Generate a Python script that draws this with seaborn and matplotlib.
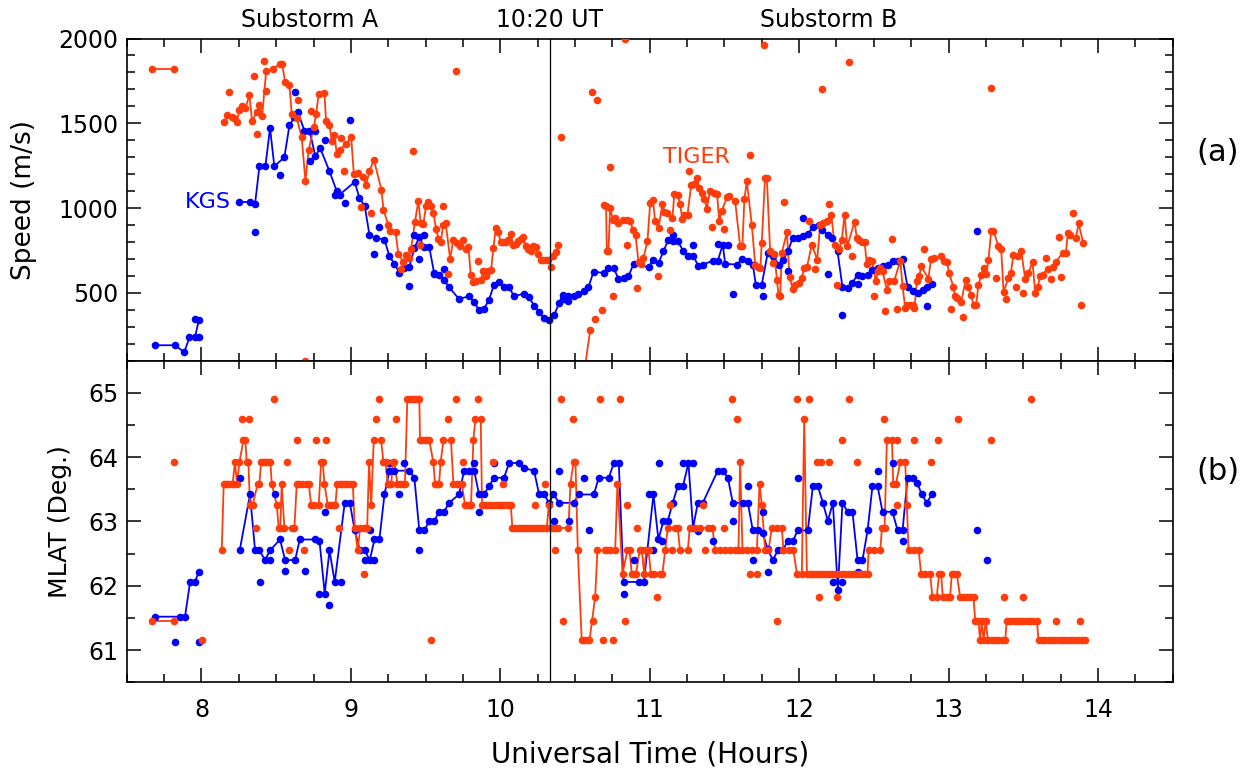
import numpy as np
import pandas as pd
import matplotlib
matplotlib.use("Agg")
import matplotlib.pyplot as plt
from matplotlib.ticker import MultipleLocator
import seaborn as sns

sns.set_style("ticks")
plt.rcParams["font.family"] = ["DejaVu Sans"]
plt.rcParams["text.color"] = "black"
plt.rcParams["axes.labelcolor"] = "black"

BLUE = "#0000ff"
RED = "#ff3c0a"

# ---------------- Speed (m/s), KGS ----------------
kgs_speed_t = [7.69, 7.823, 7.885, 7.92, 7.957, 7.982, None,
               8.254, 8.325, 8.359, 8.388, 8.428, 8.459, 8.488, 8.555, 8.589, 8.622, 8.645, 8.689, 8.723,
               8.763, 8.794, 8.857, 8.906, 8.924, 9.026, 9.057, 9.093, 9.124, 9.165, 9.225, 9.258, 9.292,
               9.325, 9.356, 9.391, 9.425, 9.458, 9.492, 9.525, 9.557, 9.59, 9.624, 9.657, 9.724,
               9.791, 9.825, 9.858, 9.891, 9.925, 9.958, 9.992, 10.025, 10.059, 10.092, 10.159, 10.193,
               10.226, 10.26, 10.293, 10.327, 10.36, 10.394, 10.423, 10.456, 10.49, 10.557, 10.59, 10.624,
               10.691, 10.724, 10.758, 10.791, 10.858, 10.892, 10.992, 11.025, 11.059, 11.092,
               11.125, 11.159, 11.188, 11.226, 11.255, 11.293, 11.326, 11.36, 11.422, 11.456, 11.489, 11.505,
               11.583, 11.621, 11.657, 11.69, 11.71, 11.75, 11.79, 11.828, 11.862, 11.895, 11.924, 11.958,
               11.991, 12.025, 12.058, 12.092, 12.13, 12.152, 12.19, 12.223, 12.257, 12.29, 12.324, 12.357,
               12.391, 12.424, 12.458, 12.491, 12.525, 12.558, 12.592, 12.625, 12.659, 12.692, 12.726, 12.759,
               12.793, 12.826, 12.855, 12.888]
kgs_speed_v = [191, 191, 150, 238, 240, 337, None,
               1036, 1036, 1026, 1246, 1246, 1472, 1246, 1300, 1488, 1535, 1567, 1457, 1457,
               1305, 1355, 1217, 1099, 1079, 1154, 1060, 1011, 844, 824, 814, 716, 671,
               618, 647, 651, 765, 828, 769, 769, 618, 608, 578, 533, 464,
               480, 447, 396, 405, 460, 549, 563, 533, 533, 480, 496, 474,
               425, 386, 352, 339, 368, 441, 464, 484, 480, 510, 533, 624,
               618, 647, 647, 584, 598, 671, 651, 696, 677, 745,
               814, 804, 804, 745, 716, 716, 657, 667, 690, 690, 785, 671,
               667, 702, 690, 667, 549, 549, 736, 716, 667, 696, 745, 824,
               824, 834, 848, 887, 899, 873, 844, 824, 745, 533, 529, 559,
               608, 598, 604, 637, 647, 657, 667, 690, 690, 702, 533, 510,
               500, 514, 533, 555]
kgs_speed_dot_t = [7.957, 7.986, 8.359, 8.524, 8.627, 8.725, 8.761, 8.825, 8.892, 8.959, 8.993, 9.158,
                   9.191, 9.391, 9.425, 9.458, 9.492, 9.557, 9.624, 10.423, 10.456, 10.523, 10.825, 11.159,
                   11.293, 11.456, 11.523, 11.556, 11.757, 11.924, 12.025, 12.19, 12.29, 12.391, 12.854, 13.189]
kgs_speed_dot_v = [343, 242, 857, 1197, 1685, 1280, 1453, 1402, 1079, 1030, 1518, 730,
                   887, 539, 840, 702, 844, 614, 643, 490, 451, 494, 588, 844,
                   781, 789, 785, 494, 480, 627, 942, 614, 372, 553, 423, 863]

# ---------------- Speed (m/s), TIGER ----------------
tiger_speed_t = [7.669, 7.819, None,
                 8.153, 8.169, 8.203, 8.22, 8.238, 8.254, 8.272, 8.294, 8.321, 8.339, 8.37, 8.388,
                 8.406, 8.433, 8.477, 8.526, 8.54, 8.56, 8.589, 8.604, 8.638, 8.671, 8.696, 8.718,
                 8.752, 8.767, 8.785, 8.823, 8.834, 8.857, 8.872, 8.89, 8.906, 8.924, 8.968, 9.002,
                 9.02, 9.051, 9.084, 9.102, 9.124, 9.154, 9.205, 9.218, 9.25, 9.265, 9.299, 9.318,
                 9.351, 9.369, 9.387, 9.403, 9.429, 9.452, 9.467, 9.485, 9.503, 9.519, 9.534, 9.552,
                 9.57, 9.586, 9.601, 9.619, 9.635, 9.664, 9.686, 9.708, 9.731, 9.771, 9.787, 9.802,
                 9.82, 9.838, 9.869, 9.887, 9.903, 9.92, 9.938, 9.954, 9.97, 9.985, 10.003, 10.02,
                 10.037, 10.054, 10.07, 10.088, 10.103, 10.121, 10.139, 10.155, 10.17, 10.188, 10.204, 10.222,
                 10.237, 10.255, 10.271, 10.289, 10.304, 10.322, 10.356, 10.371, 10.389, None,
                 10.563, 10.601, None,
                 10.691, 10.708, 10.713, 10.724, 10.735, 10.753, 10.769, 10.787, 10.82, 10.851, 10.869, 10.887,
                 10.905, 10.925, 10.941, 10.958, 10.985, 11.003, 11.021, 11.037, 11.059, 11.085, 11.098, 11.114,
                 11.152, 11.165, 11.188, 11.203, 11.219, 11.232, 11.253, 11.277, 11.297, 11.315, 11.333, 11.348,
                 11.366, 11.382, 11.404, 11.433, 11.451, 11.465, 11.482, 11.516, 11.534, 11.572, 11.605, 11.62,
                 11.634, 11.65, 11.683, 11.706, 11.723, 11.741, 11.772, 11.784, 11.806, 11.822, 11.835, 11.851,
                 11.862, 11.873, 11.884, 11.918, 11.936, 11.956, 11.974, 11.996, 12.018, 12.034, 12.052, 12.085,
                 12.121, 12.141, 12.163, 12.186, 12.215, 12.237, 12.268, 12.286, 12.304, 12.322, 12.371, 12.386,
                 12.402, 12.42, 12.438, 12.453, 12.469, 12.487, 12.514, 12.527, 12.543, 12.558, 12.587, 12.603,
                 12.636, 12.677, 12.692, 12.71, 12.725, 12.744, 12.759, 12.772, 12.788, 12.804, 12.817, 12.865,
                 12.883, 12.905, 12.95, 12.972, 12.988, 13.004, 13.033, 13.044, 13.055, 13.084, 13.115, 13.133,
                 13.151, 13.167, 13.184, 13.2, 13.218, 13.234, 13.249, 13.267, 13.285, 13.3, 13.334, 13.352,
                 13.368, 13.401, 13.417, 13.434, 13.468, 13.486, 13.513, 13.535, 13.562, 13.58, 13.597, 13.613,
                 13.629, 13.664, 13.702, 13.718, 13.765, 13.785, 13.798, 13.816, 13.852, 13.87, 13.901]
tiger_speed_v = [1822, 1822, None,
                 1506, 1547, 1535, 1531, 1508, 1580, 1600, 1590, 1665, 1512, 1567, 1610,
                 1541, 1806, 1822, 1850, 1852, 1742, 1728, 1555, 1531, 1417, 1158, 1345,
                 1476, 1555, 1675, 1679, 1512, 1488, 1394, 1433, 1319, 1345, 1378, 1419,
                 1201, 1207, 1182, 1138, 1217, 1284, 1109, 991, 903, 863, 857, 730,
                 683, 726, 706, 761, 918, 1044, 912, 906, 1011, 1034, 1011, 971,
                 879, 820, 800, 903, 910, 702, 814, 795, 775, 761, 769, 608,
                 563, 569, 578, 627, 598, 627, 633, 765, 883, 859, 800, 800,
                 800, 814, 848, 781, 791, 808, 818, 830, 775, 761, 745, 775,
                 769, 730, 692, 692, 696, 696, 716, 740, 785, None,
                 38, 278, None,
                 1021, 1011, 745, 745, 1001, 932, 942, 912, 932, 932, 926, 873,
                 840, 683, 671, 706, 804, 1030, 1050, 922, 883, 1024, 975, 971,
                 942, 1083, 1079, 1024, 938, 962, 962, 1134, 1142, 1178, 1119, 1089,
                 1056, 997, 1103, 1089, 1083, 926, 981, 1064, 1070, 1040, 775, 775,
                 1056, 1158, 903, 667, 651, 647, 1178, 1178, 745, 677, 730, 578,
                 490, 480, 736, 857, 592, 525, 549, 559, 588, 647, 651, 785,
                 696, 903, 912, 922, 962, 785, 761, 814, 962, 775, 918, 824,
                 814, 800, 800, 671, 696, 690, 569, 627, 647, 627, 519, 569,
                 569, 690, 539, 411, 431, 431, 431, 411, 569, 598, 657, 584,
                 702, 706, 716, 690, 683, 616, 533, 480, 470, 445, 578, 533,
                 486, 431, 427, 545, 604, 647, 612, 692, 863, 867, 775, 761,
                 506, 588, 618, 722, 716, 745, 584, 618, 683, 498, 537, 598,
                 608, 643, 651, 683, 736, 736, 853, 840, 824, 910, 795]
tiger_speed_dot_t = [8.187, 8.354, 8.37, 8.417, 8.433, 8.649, 8.736, 8.937, 8.953, 9.069, 9.138, 8.69,
                     9.336, 9.418, 9.463, 9.619, 9.653, 9.704, 9.753, 9.854, 10.338, 10.405, 10.617, 10.635,
                     10.65, 10.684, 10.735, 10.753, 10.851, 10.918, 11.054, 10.835, 11.136, 11.266, 11.42, 11.5,
                     11.668, 11.75, 11.768, 11.902, 12.067, 12.103, 12.152, 12.197, 12.253, 12.335, 12.353, 12.5,
                     12.572, 12.621, 12.654, 12.833, 13.017, 13.1, 13.285, 13.318, 13.383, 13.452, 13.501, 13.651,
                     13.684, 13.736, 13.751, 13.836, 13.885]
tiger_speed_dot_v = [1683, 1777, 1439, 1869, 1689, 1639, 1571, 1414, 1221, 1005, 971, 100,
                     643, 1339, 785, 1011, 614, 1806, 810, 686, 655, 1421, 1685, 346,
                     1639, 396, 1244, 484, 785, 529, 602, 2000, 873, 1217, 887, 879,
                     1315, 795, 1964, 1036, 922, 641, 1704, 1024, 549, 1860, 716, 484,
                     392, 818, 405, 759, 407, 358, 1708, 588, 466, 537, 500, 706,
                     582, 828, 592, 973, 427]

# ---------------- MLAT (deg), KGS ----------------
kgs_mlat_t = [7.691, 7.857, 7.89, 7.924, 7.957, 7.982, None,
              8.256, 8.325, 8.359, 8.388, 8.426, 8.459, 8.526, 8.56, 8.627, 8.658, 8.758, 8.79, 8.825,
              8.857, 8.892, 8.959, 8.993, 9.026, 9.06, 9.093, 9.127, 9.158, 9.191, 9.225, 9.258, 9.292,
              9.391, 9.425, 9.458, 9.492, 9.525, 9.559, 9.59, 9.624, 9.657, 9.724, 9.758, 9.791,
              9.825, 9.858, 9.891, 9.925, 9.958, 10.025, 10.059, 10.126, 10.159, 10.226, 10.26, 10.293,
              10.327, 10.356, 10.394, 10.492, 10.525, 10.626, 10.659, 10.726, 10.76, 10.793, 10.825, 10.927,
              10.961, 11.025, 11.058, 11.092, 11.121, 11.154, 11.188, 11.223, 11.259, 11.29, 11.322, 11.355,
              11.456, 11.489, 11.523, 11.556, 11.623, 11.657, 11.69, 11.723, 11.755, 11.79, 11.824, 11.857,
              11.891, 11.924, 11.958, 11.991, 12.058, 12.092, 12.125, 12.159, 12.192, 12.226, 12.259, 12.29,
              12.324, 12.357, 12.391, 12.424, 12.458, 12.491, 12.525, 12.558, 12.625, 12.659, 12.692, 12.726,
              12.759, 12.79, 12.821, 12.854, 12.888]
kgs_mlat_v = [61.52, 61.52, 61.52, 62.06, 62.06, 62.22, None,
              62.55, 63.42, 62.55, 62.55, 62.40, 62.55, 62.72, 62.40, 62.40, 62.72, 62.72, 62.70, 61.88,
              62.55, 62.06, 63.29, 63.29, 62.86, 62.55, 62.55, 62.40, 62.72, 62.72, 63.42, 63.79, 63.79,
              63.79, 63.68, 62.86, 62.86, 63.01, 63.01, 63.15, 63.15, 63.29, 63.42, 63.79, 63.79,
              63.79, 63.42, 63.42, 63.55, 63.68, 63.68, 63.91, 63.91, 63.83, 63.79, 63.42, 63.42,
              63.29, 63.42, 63.29, 63.29, 63.42, 63.42, 63.68, 63.68, 63.91, 63.91, 62.06, 62.06,
              62.06, 63.42, 62.72, 63.01, 63.01, 63.29, 63.55, 63.55, 63.91, 62.90, 63.29, 63.29,
              63.79, 63.79, 63.68, 63.29, 63.29, 63.29, 62.86, 62.86, 62.82, 62.57, 62.40, 62.55,
              62.55, 62.70, 62.70, 62.86, 62.86, 63.55, 63.55, 63.29, 63.01, 63.29, 61.94, 63.29,
              63.15, 63.15, 62.40, 62.40, 62.86, 63.55, 63.55, 63.15, 63.15, 62.86, 62.86, 63.68,
              63.68, 63.60, 63.42, 63.29, 63.42]
kgs_mlat_dot_t = [7.823, 7.986, 8.256, 8.39, 8.493, 8.56, 8.691, 8.825, 8.857, 8.79, 9.127, 8.459,
                  8.933, 9.093, 9.158, 9.258, 9.325, 9.458, 9.858, 10.36, 10.394, 10.458, 10.559, 10.592,
                  10.827, 10.894, 10.994, 11.025, 11.059, 9.356, 9.825, 9.958, 11.085, 11.223, 11.29, 11.322,
                  11.422, 11.556, 11.657, 11.69, 11.79, 11.991, 12.226, 12.29, 12.391, 12.525, 12.625, 12.692,
                  11.755, 13.189, 13.256]
kgs_mlat_dot_v = [61.13, 61.13, 63.68, 62.06, 63.42, 62.23, 62.23, 63.15, 61.70, 61.88, 62.86, 62.40,
                  62.06, 62.40, 62.40, 63.91, 63.42, 62.55, 63.15, 63.01, 63.79, 63.01, 63.68, 62.86,
                  61.88, 62.40, 63.42, 62.55, 63.91, 63.91, 63.91, 63.91, 62.70, 63.91, 63.91, 62.85,
                  62.70, 63.01, 63.55, 62.40, 62.22, 63.68, 62.06, 62.06, 62.22, 63.79, 63.91, 62.70,
                  63.15, 62.86, 62.40]

# ---------------- MLAT (deg), TIGER ----------------
tiger_mlat_t = [7.669, 7.819, None,
                8.136, 8.149, 8.165, 8.18, 8.198, 8.209, 8.224, 8.238, 8.254, 8.281, 8.294, 8.303,
                8.314, 8.325, 8.343, 8.377, 8.388, 8.399, 8.41, 8.421, 8.433, 8.444, 8.462, 8.47,
                8.504, 8.517, 8.528, 8.537, 8.555, 8.604, 8.622, 8.638, 8.656, 8.671, 8.703, 8.718,
                8.734, 8.752, 8.785, 8.801, 8.812, 8.823, 8.845, 8.861, 8.879, 8.897, 8.908, 8.924,
                8.942, 8.959, 8.977, 8.995, 9.013, 9.026, 9.046, 9.062, 9.087, 9.098, 9.109, 9.122,
                9.136, 9.153, 9.203, 9.218, 9.232, 9.247, 9.258, 9.27, 9.281, 9.292, 9.311, 9.329,
                9.347, 9.362, 9.378, 9.396, 9.414, 9.429, 9.445, 9.458, 9.463, 9.479, 9.494, 9.51,
                9.525, 9.552, 9.563, 9.575, 9.59, 9.601, 9.619, 9.67, 9.686, 9.708, 9.724, 9.742,
                9.764, 9.78, 9.793, 9.804, 9.82, 9.833, 9.869, 9.878, 9.898, 9.914, 9.932, 9.954,
                9.972, 9.99, 10.008, 10.025, 10.043, 10.061, 10.07, 10.081, 10.099, 10.117, 10.135, 10.153,
                10.17, 10.188, 10.206, 10.224, 10.244, 10.262, 10.28, 10.3, 10.311, 10.325, 10.338, 10.356,
                10.372, 10.389, 10.456, 10.47, 10.49, 10.503, 10.519, 10.545, 10.563, 10.579, 10.597, 10.635,
                10.65, 10.702, 10.717, 10.735, 10.769, 10.784, 10.818, 10.851, 10.865, 10.88, 10.896, 10.909,
                10.932, 10.947, 10.963, 10.976, 10.992, 11.008, 11.03, 11.066, 11.085, 11.103, 11.121, 11.17,
                11.188, 11.203, 11.255, 11.268, 11.304, 11.337, 11.389, 11.42, 11.438, 11.471, 11.505, 11.538,
                11.572, 11.594, 11.605, 11.621, 11.65, 11.683, 11.717, 11.735, 11.75, 11.773, 11.795, 11.817,
                11.851, 11.884, 11.895, 11.929, 11.962, 11.985, 12.018, 12.034, 12.052, 12.07, 12.085, 12.102,
                12.119, 12.14, 12.163, 12.18, 12.197, 12.219, 12.241, 12.263, 12.286, 12.308, 12.331, 12.353,
                12.375, 12.398, 12.42, 12.44, 12.458, 12.465, 12.498, 12.543, 12.554, 12.572,
                12.587, 12.621, 12.63, 12.648, 12.677, 12.71, 12.721, 12.732, 12.766, 12.8, 12.816, 12.843,
                12.876, 12.892, 12.921, 12.937, 12.95, 12.961, 12.988, 13.01, 13.022, 13.039, 13.055, 13.077,
                13.1, 13.122, 13.144, 13.167, 13.178, 13.2, 13.211, 13.222, 13.234, 13.249, 13.263, 13.29,
                13.312, 13.334, 13.356, 13.379, 13.39, 13.412, 13.435, 13.457, 13.479, 13.501, 13.524, 13.546,
                13.568, 13.591, 13.602, 13.624, 13.647, 13.669, 13.691, 13.714, 13.736, 13.758, 13.78, 13.803,
                13.825, 13.847, 13.87, 13.892, 13.914]
tiger_mlat_v = [61.46, 61.46, None,
                62.55, 63.59, 63.59, 63.59, 63.59, 63.59, 63.92, 63.59, 63.92, 64.26, 64.26, 63.92,
                63.92, 63.26, 63.26, 63.59, 63.59, 63.92, 63.92, 63.92, 63.92, 63.92, 63.92, 63.59,
                63.26, 62.90, 62.90, 63.59, 62.90, 62.90, 62.90, 63.59, 63.59, 63.59, 63.59, 63.59,
                63.26, 63.26, 63.26, 63.92, 63.92, 63.59, 63.26, 63.26, 63.26, 63.26, 63.59, 63.59,
                63.59, 63.59, 63.59, 63.59, 63.59, 62.90, 62.55, 62.90, 62.90, 62.90, 62.90, 63.92,
                63.26, 64.26, 64.26, 63.92, 63.92, 63.59, 63.59, 63.59, 63.92, 63.92, 63.59, 63.59,
                63.59, 63.59, 64.91, 64.91, 64.91, 64.91, 64.91, 64.91, 64.26, 64.26, 64.26, 64.26,
                64.26, 63.92, 63.59, 63.59, 63.59, 63.92, 64.26, 64.26, 63.59, 63.59, 63.59, 63.59,
                63.26, 63.26, 63.26, 63.26, 64.26, 64.59, 64.59, 63.26, 63.26, 63.26, 63.26, 63.26,
                63.26, 63.26, 63.26, 63.26, 63.26, 63.26, 63.26, 62.90, 62.90, 62.90, 62.90, 62.90,
                62.90, 62.90, 62.90, 62.90, 62.90, 62.90, 62.90, 62.90, 62.90, 63.26, 62.90, 62.90,
                62.90, 62.90, 62.90, 63.59, 63.92, 63.92, 62.55, 61.15, 61.15, 61.15, 61.15, 61.83,
                62.55, 62.55, 62.55, 62.55, 62.55, 63.59, 62.19, 62.55, 62.55, 62.19, 62.19, 62.19,
                62.55, 62.55, 62.19, 62.55, 62.55, 62.19, 62.19, 62.19, 62.19, 62.55, 62.90, 62.90,
                62.90, 62.55, 62.55, 62.90, 62.90, 62.90, 62.90, 62.90, 62.55, 62.55, 62.55, 62.55,
                62.55, 62.55, 63.92, 62.55, 62.55, 62.55, 62.55, 63.59, 63.26, 62.55, 62.55, 62.90,
                62.90, 62.90, 62.55, 62.55, 62.55, 62.19, 62.19, 64.59, 62.19, 62.19, 62.19, 62.19,
                62.19, 62.19, 62.19, 62.19, 62.19, 62.19, 62.19, 62.19, 62.19, 62.19, 62.19, 62.19,
                62.19, 62.19, 62.19, 62.19, 62.19, 62.55, 62.55, 62.55, 62.90, 62.90,
                64.26, 64.26, 63.59, 63.59, 63.92, 63.92, 63.26, 62.55, 62.55, 62.55, 62.19, 62.19,
                62.19, 61.83, 61.83, 62.19, 62.19, 61.83, 61.83, 61.83, 62.19, 62.19, 62.19, 61.83,
                61.83, 61.83, 61.83, 61.83, 61.46, 61.46, 61.15, 61.46, 61.15, 61.46, 61.15, 61.15,
                61.15, 61.15, 61.15, 61.15, 61.46, 61.46, 61.46, 61.46, 61.46, 61.46, 61.46, 61.46,
                61.46, 61.46, 61.15, 61.15, 61.15, 61.15, 61.15, 61.15, 61.15, 61.15, 61.15, 61.15,
                61.15, 61.15, 61.15, 61.15, 61.15]
tiger_mlat_dot_t = [7.819, 8.004, 8.27, 8.321, 8.366, 8.488, 8.571, 8.589, 8.638, 8.689, 8.767, 8.834,
                    8.919, 9.087, 9.169, 9.185, 9.302, 9.534, 9.653, 9.704, 9.753, 9.854, 9.954,
                    10.021, 10.235, 10.3, 10.367, 10.403, 10.418, 10.485, 10.619, 10.668, 10.686, 10.753, 10.802,
                    10.836, 10.851, 10.918, 11.052, 11.136, 11.152, 11.355, 11.371, 11.5, 11.554, 11.583, 11.668,
                    11.721, 11.855, 11.985, 12.067, 12.119, 12.145, 12.136, 12.201, 12.253, 12.286, 12.335, 12.386,
                    12.567, 12.656, 12.652, 12.772, 12.932, 12.883, 13.066, 13.285, 13.551, 13.368, 13.501, 13.718,
                    13.881]
tiger_mlat_dot_v = [63.92, 61.15, 64.59, 64.59, 62.90, 64.91, 63.92, 62.55, 64.26, 62.55, 64.26, 64.26,
                    62.90, 62.19, 64.59, 64.91, 64.59, 61.15, 64.59, 64.91, 63.92, 64.91, 63.92,
                    63.59, 63.26, 63.59, 62.55, 64.91, 61.46, 64.59, 61.46, 64.91, 61.15, 61.15, 64.91,
                    61.46, 63.26, 62.90, 61.83, 63.26, 62.55, 63.26, 62.55, 62.90, 64.91, 64.59, 62.19,
                    62.19, 61.46, 64.91, 64.91, 63.92, 63.92, 61.83, 63.92, 61.83, 64.26, 64.91, 63.92,
                    64.59, 64.26, 63.26, 64.26, 64.26, 63.92, 64.59, 64.26, 64.91, 61.83, 61.83, 61.46,
                    61.46]

onset_t = 10 + 20 / 60  # 10:20 UT


def line_frame(t, v):
    # None in the lists marks a gap in the line
    seg, rows = 0, []
    for a, b in zip(t, v):
        if a is None:
            seg += 1
            continue
        rows.append((a, b, seg))
    return pd.DataFrame(rows, columns=["t", "v", "seg"])


def draw(ax, t, v, dot_t, dot_v, color):
    df = line_frame(t, v)
    sns.lineplot(data=df, x="t", y="v", units="seg", estimator=None, sort=False,
                 color=color, lw=1.3, ax=ax, legend=False)
    dots = pd.concat([df[["t", "v"]], pd.DataFrame({"t": dot_t, "v": dot_v})])
    sns.scatterplot(data=dots, x="t", y="v", color=color, s=30, linewidth=0,
                    ax=ax, legend=False, zorder=3)


fig = plt.figure(figsize=(12.51, 7.72), dpi=100)
ax1 = fig.add_axes([0.1013, 0.5328, 0.8361, 0.4173])
ax2 = fig.add_axes([0.1013, 0.1162, 0.8361, 0.4166])

draw(ax1, kgs_speed_t, kgs_speed_v, kgs_speed_dot_t, kgs_speed_dot_v, BLUE)
draw(ax1, tiger_speed_t, tiger_speed_v, tiger_speed_dot_t, tiger_speed_dot_v, RED)
draw(ax2, kgs_mlat_t, kgs_mlat_v, kgs_mlat_dot_t, kgs_mlat_dot_v, BLUE)
draw(ax2, tiger_mlat_t, tiger_mlat_v, tiger_mlat_dot_t, tiger_mlat_dot_v, RED)

for ax in (ax1, ax2):
    ax.axvline(onset_t, color="black", lw=0.9, zorder=4)
    ax.set_xlim(7.5, 14.5)
    ax.xaxis.set_major_locator(MultipleLocator(1))
    ax.xaxis.set_minor_locator(MultipleLocator(0.25))
    ax.tick_params(which="both", direction="in", top=True, right=True, width=1.1,
                   labelsize=17, colors="black")
    ax.tick_params(which="major", length=10)
    ax.tick_params(which="minor", length=5.5)
    ax.tick_params(axis="y", pad=6)
    ax.tick_params(axis="x", pad=11)
    for sp in ax.spines.values():
        sp.set_linewidth(1.2)
        sp.set_color("black")

ax1.set_ylim(100, 2000)
ax1.yaxis.set_major_locator(MultipleLocator(500))
ax1.yaxis.set_minor_locator(MultipleLocator(100))
ax1.tick_params(labelbottom=False)
ax1.set_xlabel("")
ax1.set_ylabel("Speed (m/s)", fontsize=19)
ax1.yaxis.set_label_coords(-0.086, 0.5)

ax2.set_ylim(60.5, 65.5)
ax2.yaxis.set_major_locator(MultipleLocator(1))
ax2.yaxis.set_minor_locator(MultipleLocator(0.5))
ax2.set_xlabel("Universal Time (Hours)", fontsize=20)
ax2.xaxis.set_label_coords(0.5, -0.182)
ax2.set_ylabel("MLAT (Deg.)", fontsize=18)
ax2.yaxis.set_label_coords(-0.052, 0.5)

ax1.text(8.2, 1035, "KGS", color=BLUE, fontsize=16, ha="right", va="center")
ax1.text(11.09, 1300, "TIGER", color=RED, fontsize=16, ha="left", va="center")

fig.text(0.2478, 0.974, "Substorm A", fontsize=17, ha="center", va="center")
fig.text(0.4396, 0.974, "10:20 UT", fontsize=17, ha="center", va="center")
fig.text(0.6627, 0.974, "Substorm B", fontsize=17, ha="center", va="center")
fig.text(0.9736, 0.803, "(a)", fontsize=22, ha="center", va="center")
fig.text(0.9736, 0.389, "(b)", fontsize=22, ha="center", va="center")

fig.savefig("out.png", dpi=100)
